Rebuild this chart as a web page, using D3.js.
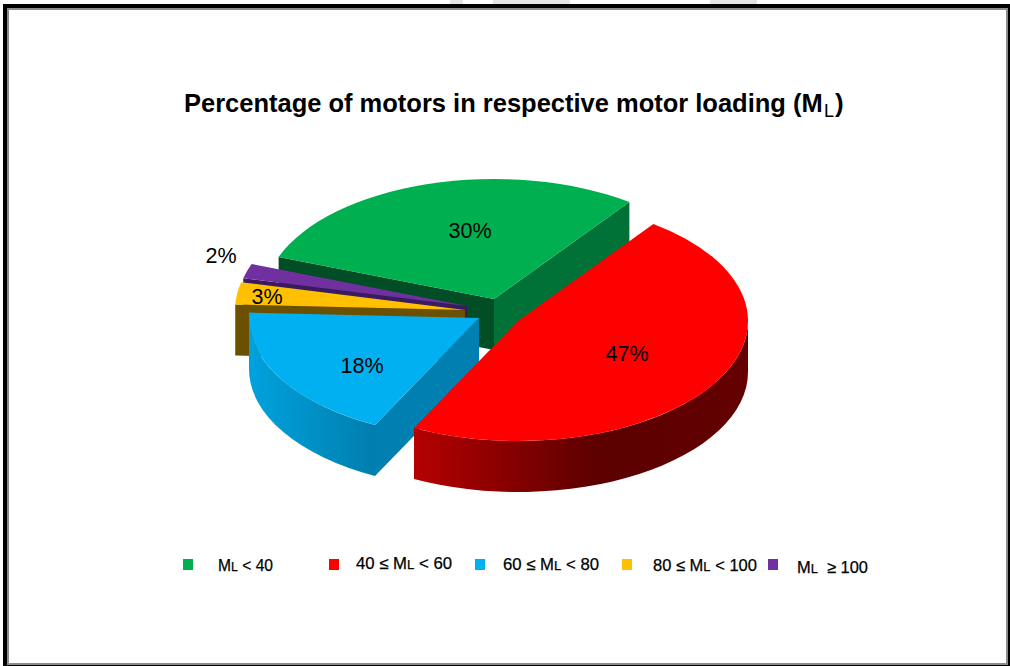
<!DOCTYPE html>
<html lang="en">
<head>
    <meta charset="utf-8">
    <title>Percentage of motors in respective motor loading</title>
    <script src="https://d3js.org/d3.v7.min.js"></script>
    <style>
        html, body {
            margin: 0;
            padding: 0;
            background: #ffffff;
        }
        svg {
            display: block;
        }
        text {
            font-family: "Liberation Sans", Arial, sans-serif;
            fill: #000000;
        }
    </style>
</head>
<body>
    <svg id="chart" width="1010" height="666"></svg>

    <script>
        // Chart data
        const categories = ["ML < 40", "40 ≤ ML < 60", "60 ≤ ML < 80", "80 ≤ ML < 100", "ML  ≥ 100"];
        const percentages = [30, 47, 18, 3, 2];

        // Slice styling, same order as the categories
        const topColors = ["#00b050", "#ff0000", "#00b0f0", "#ffc000", "#7030a0"];
        const startFaceColors = ["#004d26", "#600000", "#0080b0", "#6b5000", "#3a1a60"];
        const endFaceColors = ["#007238", "#600000", "#0080b0", "#6b5000", "#3a1a60"];
        const drawOrder = [0, 4, 3, 2, 1];

        // How far each slice is pulled out of the pie centre
        const explodeX = [-4, 20, -19, -33, -31];
        const explodeY = [-13, 9, 6, -2, -6];

        // Label and legend placement
        const labelX = [470, 627, 362, 267, 221];
        const labelY = [238, 361, 373, 304, 263];
        const legendBoxX = [183, 329, 475, 622, 768];
        const legendTextX = [218, 356, 503, 653, 797];
        const legendTextY = [571, 569, 570, 571, 573];
        const legendTextW = [55, 96, 96, 104, 71];

        const width = 1010, height = 666;
        const rx = 230, ry = 120, depth = 51;
        const baseX = 498, baseY = 312;
        const degree = Math.PI / 180;
        const svg = d3.select("#chart");

        // Gradients for the outer walls
        const defs = svg.append("defs");
        const wallStops = [
            [["0%", "#b50000"], ["55%", "#5c0000"], ["100%", "#640000"]],
            [["0%", "#00a2de"], ["100%", "#007eae"]]
        ];
        wallStops.forEach((stops, i) => {
            const gradient = defs.append("linearGradient").attr("id", `wall-${i}`);
            stops.forEach(s => gradient.append("stop").attr("offset", s[0]).attr("stop-color", s[1]));
        });
        const wallFill = i => i === 1 ? "url(#wall-0)" : i === 2 ? "url(#wall-1)" : startFaceColors[i];

        // Frame with its shadow line
        svg.append("rect").attr("x", 3).attr("y", 4).attr("width", 1007).attr("height", 662).attr("fill", "#000000");
        svg.append("rect").attr("x", 7).attr("y", 8).attr("width", 1001).attr("height", 657).attr("fill", "#8c8c8c");
        svg.append("rect").attr("x", 9).attr("y", 10).attr("width", 997).attr("height", 653).attr("fill", "#ffffff");

        // Traces of the watermark above the frame
        [[450, 463], [493, 570], [710, 757]].forEach(d => {
            svg.append("rect").attr("x", d[0]).attr("y", 0).attr("width", d[1] - d[0]).attr("height", 4).attr("fill", "#e4e4e4");
        });

        // Title, with the subscript and closing bracket placed on their own
        const title = svg.append("text")
            .attr("x", 184)
            .attr("y", 112)
            .attr("font-size", 26)
            .attr("font-weight", "bold")
            .text("Percentage of motors in respective motor loading (M");
        // Fit the main part to 639px so it ends right before the subscript
        title.attr("font-size", 26 * 639 / title.node().getComputedTextLength());
        svg.append("text")
            .attr("x", 824)
            .attr("y", 117)
            .attr("font-size", 18)
            .text("L");
        svg.append("text")
            .attr("x", 835)
            .attr("y", 112)
            .attr("font-size", 26)
            .attr("font-weight", "bold")
            .text(")");

        // Pie angles: the first slice starts 72 degrees left of north
        const pie = d3.pie()
            .sort(null)
            .startAngle(-72 * degree)
            .endAngle(288 * degree);
        const slices = pie(percentages);

        // The 3D view pushes the near and left edges a little clockwise
        const perspective = a => a + (1.6 * (1 - Math.sin(a)) - 0.6) * degree;

        const arc = d3.arc().innerRadius(0).outerRadius(rx);
        const rim = (cx, cy, a) => [cx + rx * Math.sin(a), cy - ry * Math.cos(a)];

        const pieGroup = svg.append("g");

        drawOrder.forEach(i => {
            const startAngle = perspective(slices[i].startAngle);
            const endAngle = perspective(slices[i].endAngle);
            const cx = baseX + explodeX[i];
            const cy = baseY + explodeY[i];
            const g = pieGroup.append("g");

            // Flat cut faces, drawn only if they turn toward the viewer
            const face = (angle, color) => {
                const p = rim(cx, cy, angle);
                g.append("path")
                    .attr("d", `M${cx},${cy}L${p[0]},${p[1]}L${p[0]},${p[1] + depth}L${cx},${cy + depth}Z`)
                    .attr("fill", color);
            };
            if (Math.sin(startAngle) < 0) face(startAngle, startFaceColors[i]);
            if (Math.sin(endAngle) > 0) face(endAngle, endFaceColors[i]);

            // Outer wall, only the front half of the ellipse shows
            const a0 = Math.max(startAngle, Math.PI / 2);
            const a1 = Math.min(endAngle, 3 * Math.PI / 2);
            if (a1 > a0) {
                const p0 = rim(cx, cy, a0);
                const p1 = rim(cx, cy, a1);
                g.append("path")
                    .attr("d", `M${p0[0]},${p0[1]}A${rx},${ry} 0 0 1 ${p1[0]},${p1[1]}` +
                        `L${p1[0]},${p1[1] + depth}A${rx},${ry} 0 0 0 ${p0[0]},${p0[1] + depth}Z`)
                    .attr("fill", wallFill(i));
            }

            // Top of the slice
            g.append("path")
                .attr("d", arc({startAngle: startAngle, endAngle: endAngle}))
                .attr("transform", `translate(${cx},${cy}) scale(1,${ry / rx})`)
                .attr("fill", topColors[i]);
        });

        // Data labels
        svg.append("g")
            .selectAll("text")
            .data(percentages)
            .enter().append("text")
            .attr("x", (d, i) => labelX[i])
            .attr("y", (d, i) => labelY[i])
            .attr("text-anchor", "middle")
            .attr("font-size", 21.5)
            .text(d => d + "%");

        // Legend
        const legend = svg.append("g");
        categories.forEach((name, i) => {
            legend.append("rect")
                .attr("x", legendBoxX[i])
                .attr("y", 559)
                .attr("width", 10)
                .attr("height", 11)
                .attr("fill", topColors[i]);

            // The L of ML is set smaller
            const parts = name.split("ML");
            const label = legend.append("text")
                .attr("x", legendTextX[i])
                .attr("y", legendTextY[i])
                .attr("font-size", 16.5)
                .attr("textLength", legendTextW[i])
                .attr("lengthAdjust", "spacingAndGlyphs")
                .attr("stroke", "#000000")
                .attr("stroke-width", 0.25)
                .style("white-space", "pre");
            label.append("tspan").text(parts[0] + "M");
            label.append("tspan").attr("font-size", 13).text("L");
            label.append("tspan").text(parts[1]);
        });
    </script>
</body>
</html>
